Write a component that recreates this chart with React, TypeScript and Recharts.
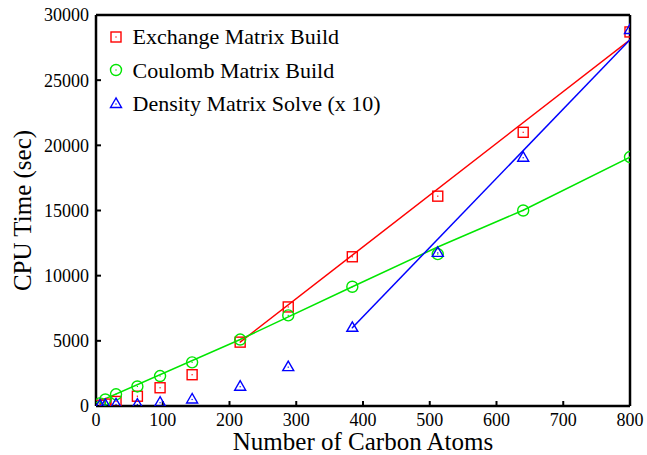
import React from "react";
import { ComposedChart, Scatter, XAxis, YAxis, Legend } from "recharts";

// carbon atom counts (x) shared by all three series
const atoms = [6, 14, 30, 62, 96, 144, 216, 288, 384, 512, 640, 800];
const exchange = [60, 150, 350, 750, 1400, 2400, 4900, 7600, 11450, 16100, 21000, 28700];
const coulomb = [200, 500, 900, 1500, 2300, 3350, 5100, 6950, 9150, 11650, 15000, 19100];
const density = [40, 80, 120, 110, 250, 500, 1480, 2980, 6000, 11750, 19050, 28850];

// fitted lines
const exchangeFitX = [216, 800];
const exchangeFitY = [4900, 28100];
const coulombFitX = [0, 216, 384, 512, 640, 800];
const coulombFitY = [250, 5100, 9150, 12200, 15020, 19100];
const densityFitX = [384, 800];
const densityFitY = [6000, 28100];

const xTicks = [0, 100, 200, 300, 400, 500, 600, 700, 800];
const yTicks = [0, 5000, 10000, 15000, 20000, 25000, 30000];

const legendNames = ["Exchange Matrix Build", "Coulomb Matrix Build", "Density Matrix Solve (x 10)"];

const RED = "#ff0000";
const GREEN = "#00e600";
const BLUE = "#0000ff";
const FONT = "'Liberation Serif', 'Times New Roman', serif";

const zip = (xs: number[], ys: number[]) => xs.map((x, i) => ({ x, y: ys[i] }));

type Kind = "square" | "circle" | "triangle";

function Marker({ kind, cx, cy, color }: { kind: Kind; cx: number; cy: number; color: string }) {
  const sw = 1.4;
  let body;
  if (kind === "square") {
    body = <rect x={cx - 5} y={cy - 5} width={10} height={10} fill="none" stroke={color} strokeWidth={sw} />;
  } else if (kind === "circle") {
    body = <circle cx={cx} cy={cy} r={5.5} fill="none" stroke={color} strokeWidth={sw} />;
  } else {
    body = (
      <polygon
        points={`${cx},${cy - 6} ${cx - 5.5},${cy + 3.5} ${cx + 5.5},${cy + 3.5}`}
        fill="none"
        stroke={color}
        strokeWidth={sw}
      />
    );
  }
  return (
    <g>
      {body}
      <rect x={cx - 0.6} y={cy - 0.6} width={1.2} height={1.2} fill={color} />
    </g>
  );
}

const shapeFor = (kind: Kind, color: string) => (p: any) =>
  p.cx == null ? <g /> : <Marker kind={kind} cx={p.cx} cy={p.cy} color={color} />;

const noShape = () => <g />;

function LegendBox() {
  const kinds: Kind[] = ["square", "circle", "triangle"];
  const colors = [RED, GREEN, BLUE];
  return (
    <div style={{ fontFamily: FONT, fontSize: 22, color: "#000" }}>
      {legendNames.map((name, i) => (
        <div key={name} style={{ display: "flex", alignItems: "center", height: 33.5, lineHeight: "33.5px" }}>
          <svg width={16} height={16} style={{ marginRight: 9 }}>
            <Marker kind={kinds[i]} cx={8} cy={8} color={colors[i]} />
          </svg>
          <span style={{ whiteSpace: "nowrap" }}>{name}</span>
        </div>
      ))}
    </div>
  );
}

const axisLine = { stroke: "#000", strokeWidth: 2.5 };
const tickLine = { stroke: "#000", strokeWidth: 2 };
const tickStyle = { fontSize: 18, fill: "#000", fontFamily: FONT };

export default function App() {
  return (
    <div style={{ position: "absolute", left: 0, top: 0, width: 647, height: 455, background: "#fff" }}>
      <ComposedChart width={647} height={455} margin={{ top: 14, right: 16, bottom: 0, left: 0 }}>
        <XAxis
          dataKey="x"
          type="number"
          domain={[0, 800]}
          ticks={xTicks}
          height={49}
          tickSize={-5}
          tickMargin={12}
          axisLine={axisLine}
          tickLine={tickLine}
          tick={tickStyle}
          allowDataOverflow
          label={{
            value: "Number of Carbon Atoms",
            position: "insideBottom",
            offset: 5,
            style: { fontSize: 25, fill: "#000", fontFamily: FONT },
          }}
        />
        <XAxis
          xAxisId="top"
          orientation="top"
          type="number"
          domain={[0, 800]}
          ticks={xTicks}
          height={1}
          tickSize={-5}
          axisLine={axisLine}
          tickLine={tickLine}
          tick={false}
          allowDataOverflow
        />
        <YAxis
          dataKey="y"
          type="number"
          domain={[0, 30000]}
          ticks={yTicks}
          width={96}
          tickSize={-5}
          tickMargin={12}
          axisLine={axisLine}
          tickLine={tickLine}
          tick={tickStyle}
          allowDataOverflow
          label={{
            value: "CPU Time (sec)",
            angle: -90,
            position: "insideLeft",
            offset: 22,
            style: { fontSize: 25, fill: "#000", fontFamily: FONT, textAnchor: "middle" },
          }}
        />
        <YAxis
          yAxisId="right"
          orientation="right"
          type="number"
          domain={[0, 30000]}
          ticks={yTicks}
          width={1}
          tickSize={-5}
          axisLine={axisLine}
          tickLine={tickLine}
          tick={false}
          allowDataOverflow
        />
        <Legend
          layout="vertical"
          align="center"
          verticalAlign="middle"
          wrapperStyle={{ left: 107.5, top: 20, width: "auto", height: "auto" }}
          content={() => <LegendBox />}
        />
        <Scatter
          data={zip(exchangeFitX, exchangeFitY)}
          line={{ stroke: RED, strokeWidth: 1.5 }}
          shape={noShape}
          isAnimationActive={false}
        />
        <Scatter
          data={zip(coulombFitX, coulombFitY)}
          line={{ stroke: GREEN, strokeWidth: 1.5 }}
          shape={noShape}
          isAnimationActive={false}
        />
        <Scatter
          data={zip(densityFitX, densityFitY)}
          line={{ stroke: BLUE, strokeWidth: 1.5 }}
          shape={noShape}
          isAnimationActive={false}
        />
        <Scatter data={zip(atoms, exchange)} shape={shapeFor("square", RED)} isAnimationActive={false} />
        <Scatter data={zip(atoms, coulomb)} shape={shapeFor("circle", GREEN)} isAnimationActive={false} />
        <Scatter data={zip(atoms, density)} shape={shapeFor("triangle", BLUE)} isAnimationActive={false} />
      </ComposedChart>
    </div>
  );
}
